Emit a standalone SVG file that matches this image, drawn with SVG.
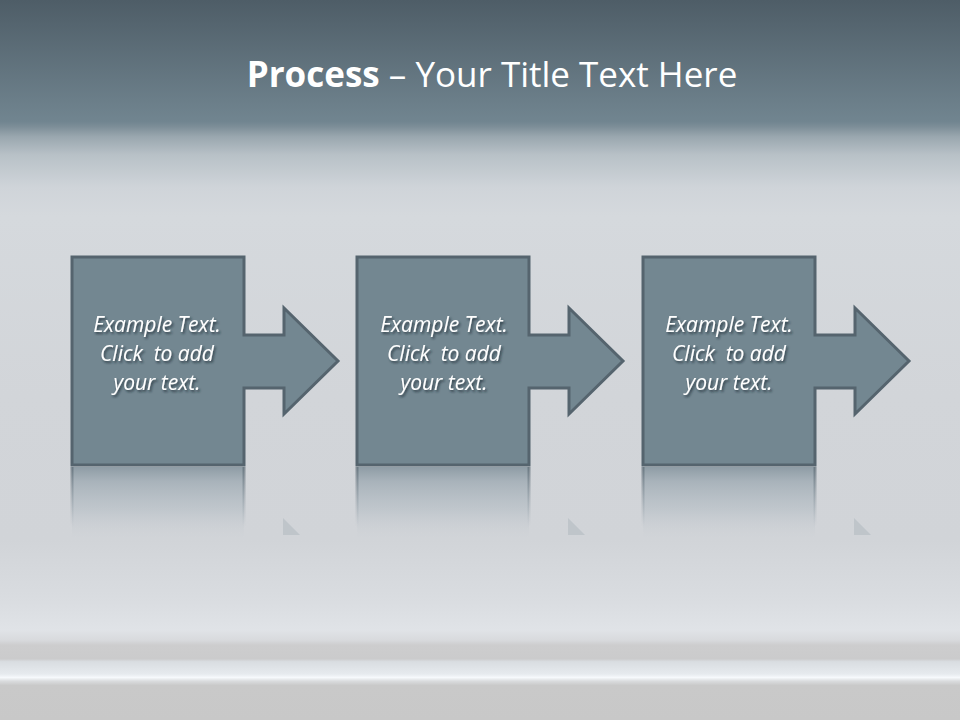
<svg xmlns="http://www.w3.org/2000/svg" xmlns:xlink="http://www.w3.org/1999/xlink" width="960" height="720" viewBox="0 0 960 720">
  <defs>
    <linearGradient id="bg" x1="0" y1="0" x2="0" y2="720" gradientUnits="userSpaceOnUse">
      <stop offset="0" stop-color="#4e5d67"/>
      <stop offset="0.169" stop-color="#718590"/>
      <stop offset="0.176" stop-color="#7d8e98"/>
      <stop offset="0.19" stop-color="#9aa7af"/>
      <stop offset="0.215" stop-color="#b8c1c7"/>
      <stop offset="0.26" stop-color="#cfd4d9"/>
      <stop offset="0.30" stop-color="#d5d9dd"/>
      <stop offset="0.55" stop-color="#d2d5d9"/>
      <stop offset="0.75" stop-color="#d1d4d8"/>
      <stop offset="0.83" stop-color="#d9dce0"/>
      <stop offset="0.875" stop-color="#e0e3e7"/>
      <stop offset="0.889" stop-color="#d8dadd"/>
      <stop offset="0.896" stop-color="#cdcdce"/>
      <stop offset="0.915" stop-color="#cbcbcc"/>
      <stop offset="0.919" stop-color="#d9dde1"/>
      <stop offset="0.936" stop-color="#e6eaee"/>
      <stop offset="0.941" stop-color="#f6f9fc"/>
      <stop offset="0.946" stop-color="#dadcde"/>
      <stop offset="0.952" stop-color="#c9c9c9"/>
      <stop offset="1" stop-color="#c8c8c8"/>
    </linearGradient>
    <linearGradient id="refl" x1="0" y1="0" x2="0" y2="1">
      <stop offset="0" stop-color="#8e9ca5" stop-opacity="1"/>
      <stop offset="0.2" stop-color="#a4afb7" stop-opacity="0.9"/>
      <stop offset="0.6" stop-color="#b5bec5" stop-opacity="0.6"/>
      <stop offset="1" stop-color="#c8cdd2" stop-opacity="0"/>
    </linearGradient>
    <linearGradient id="reflEdge" x1="0" y1="0" x2="0" y2="1">
      <stop offset="0" stop-color="#5d6b75" stop-opacity="0.7"/>
      <stop offset="1" stop-color="#8d9aa3" stop-opacity="0"/>
    </linearGradient>
    <filter id="shadow" x="-20%" y="-30%" width="140%" height="160%">
      <feDropShadow dx="1.5" dy="2" stdDeviation="1.2" flood-color="#1e2830" flood-opacity="0.75"/>
    </filter>
    <path id="proc" d="M0,0 H172 V78 H212 V51 L266,104 L212,157 V131 H172 V208 H0 Z"/>
    <style>
      .shape { fill: #738791; stroke: #55646e; stroke-width: 3; stroke-linejoin: miter; }
      .label { font-family: "Open Sans", "Liberation Sans", sans-serif; font-style: italic; font-size: 21px; fill: #ffffff; text-anchor: middle; white-space: pre; filter: url(#shadow); }
      .title { font-family: "Open Sans", "Liberation Sans", sans-serif; font-size: 35px; fill: #ffffff; text-anchor: middle; }
      .reflbox { fill: url(#refl); }
      .refledge { fill: url(#reflEdge); }
      .reflhead { fill: #aeb6bc; opacity: 0.5; }
    </style>
  </defs>

  <rect x="0" y="0" width="960" height="720" fill="url(#bg)"/>

  <g id="title">
    <text class="title" x="492" y="87"><tspan font-weight="bold">Process</tspan> – Your Title Text Here</text>
  </g>

  <g id="reflections">
    <rect class="reflbox" x="72" y="467" width="172" height="72"/>
    <rect class="refledge" x="70.5" y="467" width="3" height="60"/>
    <rect class="refledge" x="242.5" y="467" width="3" height="60"/>
    <polygon class="reflhead" points="283,518 300,535 283,535"/>
    <rect class="reflbox" x="357" y="467" width="172" height="72"/>
    <rect class="refledge" x="355.5" y="467" width="3" height="60"/>
    <rect class="refledge" x="527.5" y="467" width="3" height="60"/>
    <polygon class="reflhead" points="568,518 585,535 568,535"/>
    <rect class="reflbox" x="643" y="467" width="172" height="72"/>
    <rect class="refledge" x="641.5" y="467" width="3" height="60"/>
    <rect class="refledge" x="813.5" y="467" width="3" height="60"/>
    <polygon class="reflhead" points="854,518 871,535 854,535"/>
  </g>

  <g id="connectors"></g>

  <g id="step1">
    <use xlink:href="#proc" href="#proc" class="shape" transform="translate(72,257)"/>
    <text class="label" x="157" y="332">Example Text.</text>
    <text class="label" x="157" y="361">Click  to add</text>
    <text class="label" x="157" y="390">your text.</text>
  </g>

  <g id="step2">
    <use xlink:href="#proc" href="#proc" class="shape" transform="translate(357,257)"/>
    <text class="label" x="444" y="332">Example Text.</text>
    <text class="label" x="444" y="361">Click  to add</text>
    <text class="label" x="444" y="390">your text.</text>
  </g>

  <g id="step3">
    <use xlink:href="#proc" href="#proc" class="shape" transform="translate(643,257)"/>
    <text class="label" x="729" y="332">Example Text.</text>
    <text class="label" x="729" y="361">Click  to add</text>
    <text class="label" x="729" y="390">your text.</text>
  </g>
</svg>
